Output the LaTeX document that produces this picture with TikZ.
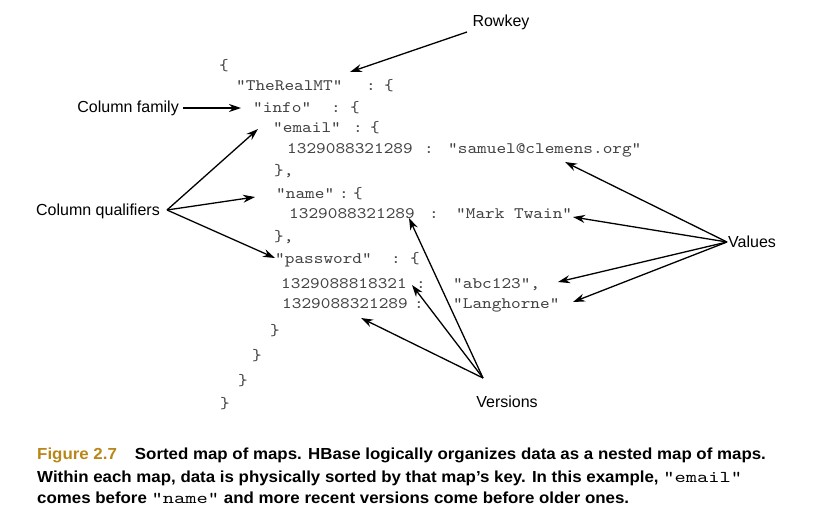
\documentclass[tikz,border=0pt]{standalone}
\usepackage{fontspec}
\setmainfont{Liberation Sans}
\newfontfamily\codefont[FakeStretch=1.15]{lmmono10-regular.otf}
\newfontfamily\capfont[FakeStretch=1.055]{Liberation Sans}
\newfontfamily\capcode[FakeStretch=1.3]{lmmono10-regular.otf}
\usetikzlibrary{arrows.meta}
\definecolor{codegray}{RGB}{65,65,65}
\definecolor{figgold}{RGB}{185,135,25}
\begin{document}
\begin{tikzpicture}[x=1pt,y=-1pt,
 code/.style={anchor=base west,inner sep=0pt,font=\codefont\fontsize{16}{16}\selectfont,text=codegray},
 lbl/.style={inner sep=0pt,font=\fontsize{16}{16}\selectfont},
 arr/.style={-{Stealth[length=12pt,width=8pt]},line width=1.3pt},
 captxt/.style={anchor=base west,inner sep=0pt,font=\capfont\bfseries\fontsize{16}{16}\selectfont}]
\useasboundingbox (0,0) rectangle (828,520);
\fill[white] (0,0) rectangle (828,520);
% code
\node[code] (l1) at (219,70) {\{};
\node[code] (l2a) at (236,90) {"TheRealMT"};
\node[code] (l2b) at (366,90) {:};
\node[code] (l2c) at (384,90) {\{};
\node[code] (l3a) at (253,112) {"info"};
\node[code] (l3b) at (331,112) {:};
\node[code] (l3c) at (350,112) {\{};
\node[code] (l4a) at (273,132) {"email"};
\node[code] (l4b) at (353,132) {:};
\node[code] (l4c) at (370,132) {\{};
\node[code] (l5a) at (287,153) {1329088321289};
\node[code] (l5b) at (424,153) {:};
\node[code] (l5c) at (448,153) {"samuel@clemens.org"};
\node[code] (l6) at (274,175) {\},};
\node[code] (l7a) at (276,198) {"name"};
\node[code] (l7b) at (339,198) {:};
\node[code] (l7c) at (353,198) {\{};
\node[code] (l8a) at (289,218) {1329088321289};
\node[code] (l8b) at (429,218) {:};
\node[code] (l8c) at (456,218) {"Mark Twain"};
\node[code] (l9) at (274,241) {\},};
\node[code] (l10a) at (275,263) {"password"};
\node[code] (l10b) at (391,263) {:};
\node[code] (l10c) at (410,263) {\{};
\node[code] (l11a) at (281,288) {1329088818321};
\node[code] (l11b) at (416,288) {:};
\node[code] (l11c) at (453,288) {"abc123",};
\node[code] (l12a) at (282,308) {1329088321289};
\node[code] (l12b) at (414,308) {:};
\node[code] (l12c) at (453,308) {"Langhorne"};
\node[code] (l13) at (270,335) {\}};
\node[code] (l14) at (252,360) {\}};
\node[code] (l15) at (238,385) {\}};
\node[code] (l16) at (220,408) {\}};
% labels
\node[lbl] (rowkey) at (501,22) {Rowkey};
\node[lbl,anchor=east] (cf) at (179,108) {Column family};
\node[lbl,anchor=east] (cq) at (160,211) {Column qualifiers};
\node[lbl,anchor=west] (val) at (728,242) {Values};
\node[lbl] (ver) at (507,402) {Versions};
% arrow ends
\coordinate (rk0) at (467,32);   \coordinate (rkT) at (350,72);
\coordinate (cf0) at (183,108);  \coordinate (cfT) at (241,108);
\coordinate (cq0) at (167,210);
\coordinate (cqE) at (258,129);  \coordinate (cqN) at (255,197); \coordinate (cqP) at (275,258);
\coordinate (va0) at (727,242);
\coordinate (vaS) at (565,162);  \coordinate (vaM) at (573,217);
\coordinate (vaA) at (558,282);  \coordinate (vaL) at (573,302);
\coordinate (ve0) at (483,378);
\coordinate (veN) at (409,218);  \coordinate (veA) at (412,285); \coordinate (veL) at (361,318);
\draw[arr] (rk0) -- (rkT);
\draw[arr] (cf0) -- (cfT);
\draw[arr] (cq0) -- (cqE);
\draw[arr] (cq0) -- (cqN);
\draw[arr] (cq0) -- (cqP);
\draw[arr] (va0) -- (vaS);
\draw[arr] (va0) -- (vaM);
\draw[arr] (va0) -- (vaA);
\draw[arr] (va0) -- (vaL);
\draw[arr] (ve0) -- (veN);
\draw[arr] (ve0) -- (veA);
\draw[arr] (ve0) -- (veL);
% caption
\node[captxt] (cap1) at (37,459) {{\color{figgold}Figure 2.7}\hspace{18pt}Sorted map of maps. HBase logically organizes data as a nested map of maps.};
\node[captxt] (cap2) at (37,482) {Within each map, data is physically sorted by that map’s key. In this example, {\capcode\fontsize{16.5}{16}\selectfont"email"}};
\node[captxt] (cap3) at (37,503) {comes before {\capcode\fontsize{16.5}{16}\selectfont"name"} and more recent versions come before older ones.};
\end{tikzpicture}
\end{document}
